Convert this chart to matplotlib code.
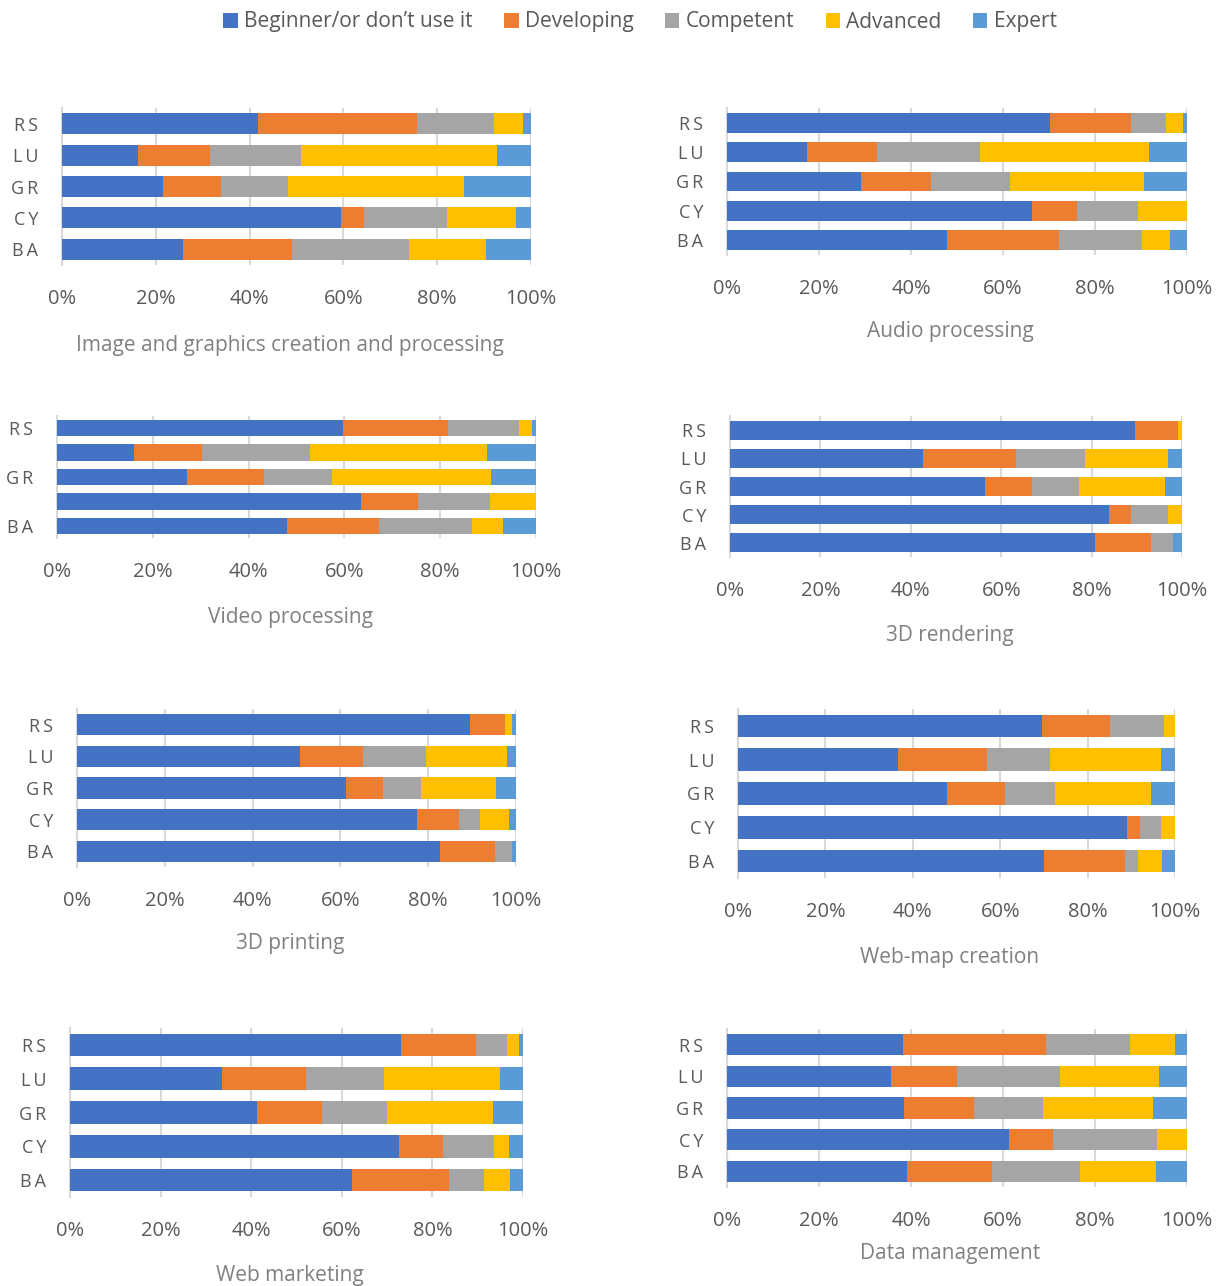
import matplotlib
matplotlib.use("Agg")
import matplotlib.pyplot as plt
from matplotlib.patches import Patch
from matplotlib.ticker import FuncFormatter

plt.rcParams['font.family'] = ['Open Sans', 'DejaVu Sans']

countries = ["RS", "LU", "GR", "CY", "BA"]
levels = ["Beginner/or don\u2019t use it", "Developing", "Competent", "Advanced", "Expert"]
colors = ["#4472C4", "#ED7D31", "#A5A5A5", "#FFC000", "#5B9BD5"]
x_ticks = [0, 20, 40, 60, 80, 100]

# each panel: rows = levels, columns = countries (RS, LU, GR, CY, BA), in %
image_graphics = [
    [41.7, 16.2, 21.5, 59.5, 25.8],
    [33.9, 15.4, 12.4, 4.9, 23.2],
    [16.5, 19.4, 14.2, 17.7, 25.0],
    [6.2, 41.8, 37.7, 14.8, 16.5],
    [1.7, 7.2, 14.2, 3.1, 9.5],
]
audio = [
    [70.3, 17.3, 29.2, 66.4, 47.9],
    [17.5, 15.3, 15.1, 9.6, 24.2],
    [7.7, 22.4, 17.2, 13.3, 18.2],
    [3.7, 36.8, 29.2, 10.7, 6.0],
    [0.8, 8.2, 9.3, 0.0, 3.7],
]
video = [
    [59.8, 16.0, 27.2, 63.5, 48.1],
    [21.9, 14.3, 16.0, 11.9, 19.2],
    [14.7, 22.5, 14.3, 14.9, 19.3],
    [2.8, 36.9, 33.1, 9.7, 6.6],
    [0.9, 10.2, 9.4, 0.0, 6.8],
]
rendering_3d = [
    [89.6, 42.7, 56.5, 83.9, 80.8],
    [9.5, 20.6, 10.3, 4.8, 12.4],
    [0.0, 15.2, 10.5, 8.2, 4.9],
    [0.9, 18.5, 19.0, 3.1, 0.0],
    [0.0, 3.0, 3.7, 0.0, 1.9],
]
printing_3d = [
    [89.6, 50.9, 61.3, 77.5, 82.7],
    [7.9, 14.3, 8.5, 9.5, 12.5],
    [0.0, 14.4, 8.6, 4.9, 3.9],
    [1.7, 18.4, 17.0, 6.5, 0.0],
    [0.8, 2.0, 4.6, 1.6, 0.9],
]
web_map = [
    [69.5, 36.7, 47.9, 89.0, 70.1],
    [15.7, 20.3, 13.3, 3.1, 18.4],
    [12.2, 14.3, 11.4, 4.6, 3.0],
    [2.6, 25.6, 21.8, 3.3, 5.5],
    [0.0, 3.1, 5.6, 0.0, 3.0],
]
web_marketing = [
    [73.0, 33.6, 41.3, 72.6, 62.3],
    [16.6, 18.5, 14.4, 9.7, 21.3],
    [6.9, 17.2, 14.2, 11.2, 7.7],
    [2.6, 25.7, 23.5, 3.3, 5.9],
    [0.9, 5.0, 6.6, 3.2, 2.8],
]
data_management = [
    [38.2, 35.6, 38.5, 61.2, 39.2],
    [31.2, 14.3, 15.2, 9.6, 18.4],
    [18.3, 22.4, 15.1, 22.7, 19.2],
    [9.7, 21.6, 23.7, 6.5, 16.5],
    [2.6, 6.1, 7.5, 0.0, 6.7],
]

titles = ["Image and graphics creation and processing", "Audio processing",
          "Video processing", "3D rendering", "3D printing", "Web-map creation",
          "Web marketing", "Data management"]
panels = [image_graphics, audio, video, rendering_3d, printing_3d, web_map,
          web_marketing, data_management]

W, H = 1221, 1286
# layout in pixels: left, right, top, bottom, title_x, title_y
boxes = [
    (62, 531, 108, 265, 290, 345),
    (727, 1187, 108, 255, 950, 332),
    (57, 536, 416, 538, 290, 617),
    (730, 1182, 416, 557, 950, 635),
    (77, 516, 709, 867, 290, 944),
    (738, 1175, 709, 878, 950, 957),
    (70, 523, 1028, 1197, 290, 1275),
    (727, 1187, 1029, 1187, 950, 1253),
]
label_sets = [countries, countries, ["RS", "", "GR", "", "BA"], countries,
              countries, countries, countries, countries]

text_col = "#595959"
title_col = "#808080"
grid_col = "#D9D9D9"

fig = plt.figure(figsize=(W / 100, H / 100), dpi=100)

for data, title, (x0, x1, y0, y1, tx, ty), labs in zip(panels, titles, boxes, label_sets):
    ax = fig.add_axes([x0 / W, 1 - y1 / H, (x1 - x0) / W, (y1 - y0) / H])
    ypos = list(range(len(countries)))
    left = [0.0] * len(countries)
    for vals, col in zip(data, colors):
        ax.barh(ypos, vals, left=left, height=0.67, color=col, linewidth=0, zorder=3)
        left = [a + b for a, b in zip(left, vals)]
    ax.set_xlim(0, 100)
    ax.set_ylim(len(countries) - 0.5, -0.5)
    ax.set_xticks(x_ticks)
    ax.xaxis.set_major_formatter(FuncFormatter(lambda v, p: f"{int(v)}%"))
    ax.set_yticks(ypos)
    ax.set_yticklabels(["\u2009".join(l) for l in labs])
    ax.grid(axis="x", color=grid_col, linewidth=1.5, zorder=0)
    for s in ["top", "right", "bottom"]:
        ax.spines[s].set_visible(False)
    ax.spines["left"].set_color(grid_col)
    ax.spines["left"].set_linewidth(1.5)
    ax.tick_params(axis="x", length=0, pad=17, labelsize=14.5, labelcolor=text_col)
    ax.tick_params(axis="y", length=0, pad=17, labelsize=13, labelcolor=text_col)
    fig.text(tx / W, 1 - ty / H, title, ha="center", va="center",
             fontsize=15, color=title_col)

handles = [Patch(facecolor=c, edgecolor="none") for c in colors]
fig.legend(handles, levels, loc="center", bbox_to_anchor=(640 / W, 1 - 22 / H),
           ncol=5, frameon=False, fontsize=15, handlelength=0.7, handleheight=0.7,
           handletextpad=0.3, columnspacing=1.5, labelcolor=text_col)

fig.savefig("out.png", dpi=100)
